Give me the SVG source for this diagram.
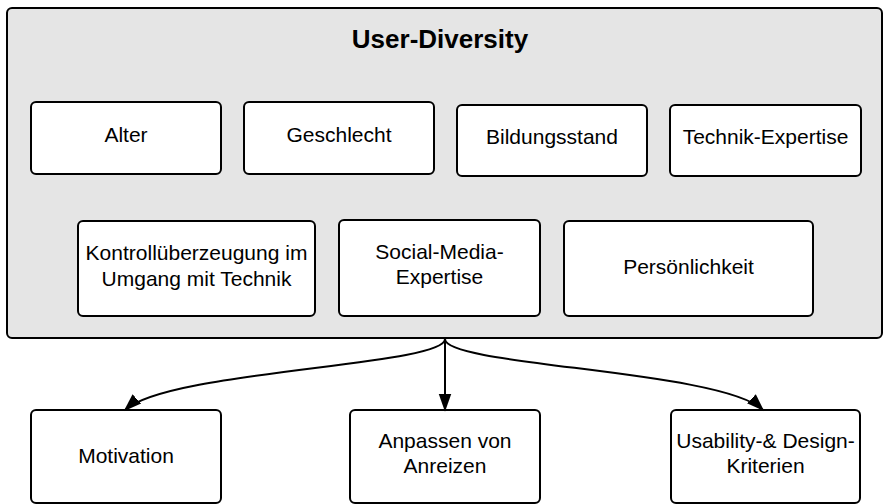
<svg xmlns="http://www.w3.org/2000/svg" width="883" height="504" viewBox="0 0 883 504">
<style>
.box{fill:#fff;stroke:#000;stroke-width:2}
.outer{fill:#e5e5e5;stroke:#000;stroke-width:2}
text{font-family:"Liberation Sans",Arial,sans-serif;font-size:21px;fill:#000;text-anchor:middle}
.title{font-weight:bold;font-size:26px}
.conn{fill:none;stroke:#000;stroke-width:2;marker-end:url(#arr)}
</style>
<defs>
<marker id="arr" viewBox="0 0 10 10" refX="9" refY="5" markerWidth="9" markerHeight="9" orient="auto" markerUnits="strokeWidth">
<path d="M0,1.5 L10,5 L0,8.5 Z" fill="#000"/>
</marker>
</defs>
<g id="user-diversity">
<rect class="outer" x="7" y="8" width="875" height="330" rx="5"/>
<text class="title" x="440" y="48">User-Diversity</text>
</g>
<g id="alter"><rect class="box" x="31" y="102" width="190" height="72" rx="5"/><text x="126" y="142">Alter</text></g>
<g id="geschlecht"><rect class="box" x="244" y="102" width="190" height="72" rx="5"/><text x="339" y="142">Geschlecht</text></g>
<g id="bildungsstand"><rect class="box" x="457" y="105" width="190" height="71" rx="5"/><text x="552" y="144">Bildungsstand</text></g>
<g id="technik-expertise"><rect class="box" x="670" y="105" width="191" height="71" rx="5"/><text x="765.5" y="144">Technik-Expertise</text></g>
<g id="kontrollueberzeugung"><rect class="box" x="78" y="221" width="237" height="95" rx="5"/><text x="196.5" y="260">Kontrollüberzeugung im</text><text x="196.5" y="286">Umgang mit Technik</text></g>
<g id="social-media"><rect class="box" x="339" y="220" width="201" height="96" rx="5"/><text x="439.5" y="259">Social-Media-</text><text x="439.5" y="284">Expertise</text></g>
<g id="persoenlichkeit"><rect class="box" x="564" y="221" width="249" height="95" rx="5"/><text x="688.5" y="274">Persönlichkeit</text></g>
<g id="motivation"><rect class="box" x="31" y="410" width="190" height="93" rx="5"/><text x="126" y="463">Motivation</text></g>
<g id="anpassen"><rect class="box" x="350" y="410" width="190" height="93" rx="5"/><text x="445" y="448">Anpassen von</text><text x="445" y="473">Anreizen</text></g>
<g id="usability"><rect class="box" x="671" y="410" width="189" height="93" rx="5"/><text x="765.5" y="448">Usability-&amp; Design-</text><text x="765.5" y="473">Kriterien</text></g>
<g id="connectors">
<path class="conn" d="M445,339 C445,366 168,370 125,410"/>
<path class="conn" d="M445,339 L445,410"/>
<path class="conn" d="M445,339 C445,366 722,370 763,410"/>
</g>
</svg>
